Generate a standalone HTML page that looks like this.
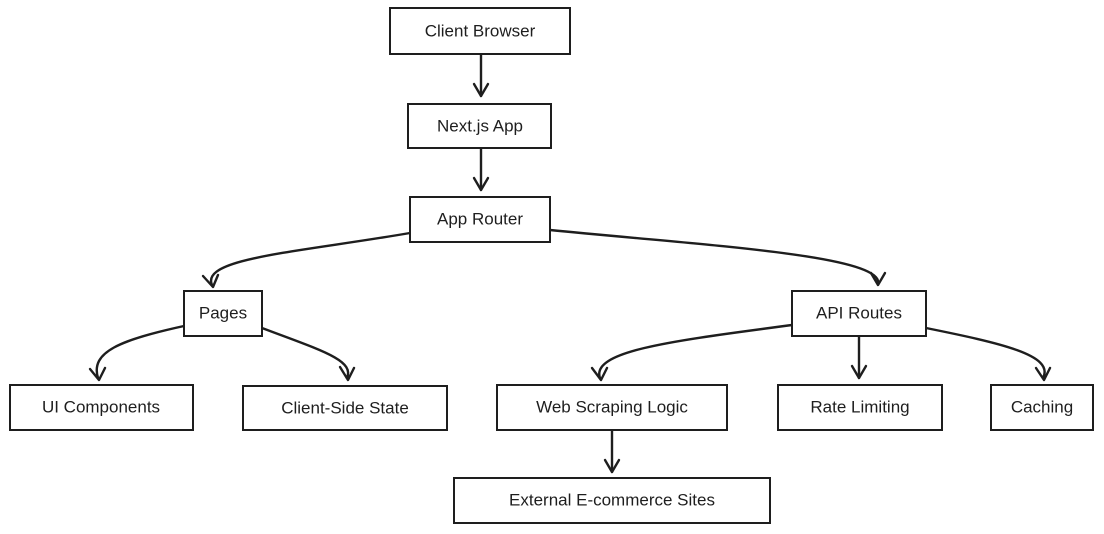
<!DOCTYPE html>
<html><head><style>
html,body{margin:0;padding:0;background:#fff;width:1104px;height:534px;overflow:hidden}
text{font-family:"Liberation Sans",sans-serif;font-size:17px;fill:#1e1e1e;text-anchor:middle;dominant-baseline:central}
rect{fill:#fff;stroke:#1e1e1e;stroke-width:2}
path{fill:none;stroke:#1e1e1e;stroke-width:2.4;stroke-linecap:round;stroke-linejoin:round}
</style></head><body>
<svg width="1104" height="534" viewBox="0 0 1104 534">
<path d="M481 54 L481 96"/><path d="M474 84 L481 96 L488 84"/>
<path d="M481 148 L481 190"/><path d="M474 178 L481 190 L488 178"/>
<path d="M410 233 C300 252 200 258 212 285"/><path d="M203 276 L213 287 L218 275"/>
<path d="M550 230 C700 245 885 255 878 284"/><path d="M871 273 L878 285 L885 273"/>
<path d="M184 326 C120 340 90 352 98 378"/><path d="M90 369 L99 380 L105 368"/>
<path d="M262 328 C320 350 355 360 347 378"/><path d="M340 367 L348 380 L354 368"/>
<path d="M792 325 C680 340 590 350 600 378"/><path d="M592 368 L601 380 L607 368"/>
<path d="M859 336 L859 378"/><path d="M852 366 L859 378 L866 366"/>
<path d="M926 328 C1000 343 1055 355 1043 378"/><path d="M1036 368 L1044 380 L1050 368"/>
<path d="M612 430 L612 472"/><path d="M605 460 L612 472 L619 460"/>
<rect x="390" y="8" width="180" height="46"/><text x="480" y="31">Client Browser</text>
<rect x="408" y="104" width="143" height="44"/><text x="480" y="126">Next.js App</text>
<rect x="410" y="197" width="140" height="45"/><text x="480" y="219">App Router</text>
<rect x="184" y="291" width="78" height="45"/><text x="223" y="313">Pages</text>
<rect x="792" y="291" width="134" height="45"/><text x="859" y="313">API Routes</text>
<rect x="10" y="385" width="183" height="45"/><text x="101" y="407">UI Components</text>
<rect x="243" y="386" width="204" height="44"/><text x="345" y="408">Client-Side State</text>
<rect x="497" y="385" width="230" height="45"/><text x="612" y="407">Web Scraping Logic</text>
<rect x="778" y="385" width="164" height="45"/><text x="860" y="407">Rate Limiting</text>
<rect x="991" y="385" width="102" height="45"/><text x="1042" y="407">Caching</text>
<rect x="454" y="478" width="316" height="45"/><text x="612" y="500">External E-commerce Sites</text>
</svg>
</body></html>
